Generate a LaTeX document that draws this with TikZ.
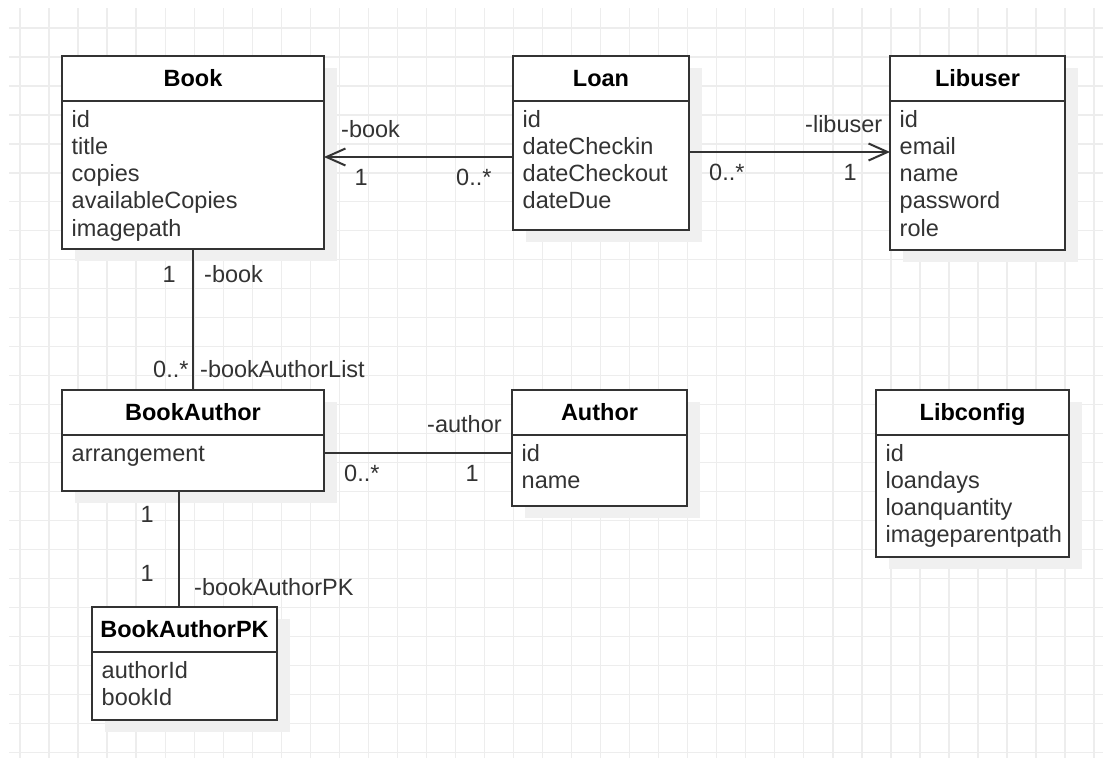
\documentclass[tikz,border=0pt]{standalone}
\usepackage{fontspec}
\setmainfont{Liberation Sans}
\usetikzlibrary{arrows.meta}

\definecolor{gridline}{HTML}{EDEDED}
\definecolor{shadowfill}{HTML}{F0F0F0}
\definecolor{strokecol}{HTML}{333333}
\definecolor{textcol}{HTML}{333333}

\newcommand{\umlfont}{\fontsize{23.5}{27.3}\selectfont}

\tikzset{
  gridstyle/.style={draw=gridline, line width=1.3pt},
  classbox/.style={draw=strokecol, fill=white, line width=2pt, inner sep=0pt, outer sep=0pt},
  classline/.style={draw=strokecol, line width=2pt},
  titletext/.style={font=\umlfont\bfseries, text=black, inner sep=0pt},
  attrtext/.style={font=\umlfont, text=textcol, inner sep=0pt},
  roletext/.style={font=\umlfont, text=textcol, inner sep=0pt, anchor=base west},
  assoc/.style={draw=strokecol, line width=2pt},
  navarrow/.style={assoc, -{Straight Barb[length=19pt,width=17pt]}},
}

% class box: name, x, y, width, height, title, attributes
\newcommand{\umlclass}[7]{%
  \fill[shadowfill] (#2+13,#3+12) rectangle ++(#4,#5);
  \node[classbox, minimum width=#4pt, minimum height=#5pt, anchor=north west] (#1) at (#2,#3) {};
  \draw[classline] ([yshift=-45pt]#1.north west) -- ([yshift=-45pt]#1.north east);
  \node[titletext, anchor=base] (#1-title) at ([yshift=-30.5pt]#1.north) {#6};
  \foreach \attr [count=\i] in {#7}
    \node[attrtext, anchor=base west] (#1-attr\i) at ([xshift=9.5pt,yshift={-71pt-27.3pt*(\i-1)}]#1.north west) {\attr};
}

\begin{document}
\begin{tikzpicture}[x=1pt, y=-1pt]
  \useasboundingbox (0,0) rectangle (1103,758);
  \fill[white] (0,0) rectangle (1103,758);

  % background grid
  \foreach \k in {0,...,37}
    \draw[gridstyle] (20+29.03*\k, 8) -- (20+29.03*\k, 758);
  \foreach \k in {0,...,25}
    \draw[gridstyle] (9, 28+28.97*\k) -- (1103, 28+28.97*\k);

  % classes
  \umlclass{book}{62}{56}{262}{193}{Book}{id,title,copies,availableCopies,imagepath}
  \umlclass{loan}{513}{56}{176}{174}{Loan}{id,dateCheckin,dateCheckout,dateDue}
  \umlclass{libuser}{890}{56}{175}{194}{Libuser}{id,email,name,password,role}
  \umlclass{bookauthor}{62}{390}{262}{101}{BookAuthor}{arrangement}
  \umlclass{author}{512}{390}{175}{116}{Author}{id,name}
  \umlclass{libconfig}{876}{390}{193}{167}{Libconfig}{id,loandays,loanquantity,imageparentpath}
  \umlclass{bookauthorpk}{92}{607}{185}{113}{BookAuthorPK}{authorId,bookId}

  % associations
  \draw[navarrow] ([yshift=-101pt]loan.north west) -- ([yshift=-101pt]book.north east);
  \draw[navarrow] ([yshift=-96pt]loan.north east) -- ([yshift=-96pt]libuser.north west);
  \draw[assoc] (book.south) -- (bookauthor.north);
  \draw[assoc] ([yshift=-63pt]bookauthor.north east) -- ([yshift=-63pt]author.north west);
  \draw[assoc] ([xshift=116.5pt]bookauthor.south west) -- ([xshift=86.5pt]bookauthorpk.north west);

  % role names and multiplicities
  \node[roletext] (r-loan-book) at (341,137) {-book};
  \node[roletext] (m-loan-book-1) at (354.5,185) {1};
  \node[roletext] (m-loan-book-n) at (456,185) {0..*};
  \node[roletext] (r-loan-user) at (805,132) {-libuser};
  \node[roletext] (m-loan-user-n) at (709,180) {0..*};
  \node[roletext] (m-loan-user-1) at (843.5,180) {1};
  \node[roletext] (m-ba-book-1) at (162.5,282) {1};
  \node[roletext] (r-ba-book) at (204,282) {-book};
  \node[roletext] (m-ba-book-n) at (153,377) {0..*};
  \node[roletext] (r-ba-list) at (200,377) {-bookAuthorList};
  \node[roletext] (r-ba-author) at (427,432) {-author};
  \node[roletext] (m-ba-author-n) at (344,481) {0..*};
  \node[roletext] (m-ba-author-1) at (465.5,481) {1};
  \node[roletext] (m-ba-pk-1a) at (140.5,522) {1};
  \node[roletext] (m-ba-pk-1b) at (140.5,581) {1};
  \node[roletext] (r-ba-pk) at (194,595) {-bookAuthorPK};
\end{tikzpicture}
\end{document}
